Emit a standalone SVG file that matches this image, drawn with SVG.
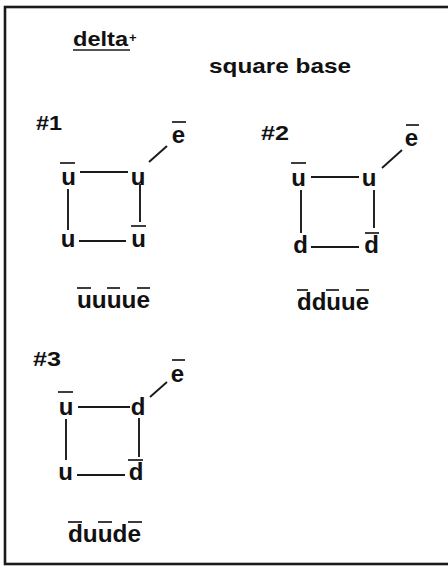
<svg xmlns="http://www.w3.org/2000/svg" width="448" height="566" viewBox="0 0 448 566">
<style>
text{font-family:"Liberation Sans",Arial,sans-serif;font-weight:bold;fill:#111}
.n{font-size:24px;text-anchor:middle}
.h{font-size:20px}
.lb{font-size:24px}
.c line{stroke:#1a1a1a;stroke-width:1.9}
.bar{stroke:#1a1a1a;stroke-width:1.7}
</style>
<rect x="5" y="7" width="470" height="557" fill="#fff" stroke="#1a1a1a" stroke-width="2.6"/>
<g id="title">
<text class="h" x="73" y="46" textLength="55" lengthAdjust="spacingAndGlyphs">delta</text>
<text x="129" y="42" font-size="13">+</text>
<line class="bar" x1="73" y1="50" x2="130" y2="50"/>
<text x="209" y="73" font-size="21" textLength="142" lengthAdjust="spacingAndGlyphs">square base</text>
</g>
<g id="d1">
<text class="h" x="36" y="130" textLength="26" lengthAdjust="spacingAndGlyphs">#1</text>
<g id="d1-ubar1"><text class="n" x="68.5" y="185">u</text><line class="bar" x1="60" y1="163" x2="75" y2="163"/></g>
<g id="d1-u1"><text class="n" x="138" y="185">u</text></g>
<g id="d1-ebar"><text class="n" x="178.5" y="143">e</text><line class="bar" x1="172" y1="122" x2="186" y2="122"/></g>
<g id="d1-u2"><text class="n" x="68" y="247">u</text></g>
<g id="d1-ubar2"><text class="n" x="138.5" y="247">u</text><line class="bar" x1="131" y1="226" x2="146" y2="226"/></g>
<g id="d1-label"><text class="lb" x="77" y="308" textLength="73" lengthAdjust="spacingAndGlyphs">uuuue</text>
<line class="bar" x1="77" y1="288" x2="91" y2="288"/><line class="bar" x1="107" y1="288" x2="120" y2="288"/><line class="bar" x1="137" y1="288" x2="150" y2="288"/></g>
</g>
<g id="d2">
<text class="h" x="261" y="140" textLength="28" lengthAdjust="spacingAndGlyphs">#2</text>
<g id="d2-ubar"><text class="n" x="298.5" y="186">u</text><line class="bar" x1="291" y1="163" x2="306" y2="163"/></g>
<g id="d2-u"><text class="n" x="369" y="186">u</text></g>
<g id="d2-ebar"><text class="n" x="411.5" y="146">e</text><line class="bar" x1="406" y1="125" x2="419" y2="125"/></g>
<g id="d2-d"><text class="n" x="300.5" y="253">d</text></g>
<g id="d2-dbar"><text class="n" x="371.5" y="253">d</text><line class="bar" x1="365" y1="233" x2="379" y2="233"/></g>
<g id="d2-label"><text class="lb" x="297" y="310" textLength="72" lengthAdjust="spacingAndGlyphs">dduue</text>
<line class="bar" x1="297" y1="290" x2="308" y2="290"/><line class="bar" x1="326" y1="290" x2="339" y2="290"/><line class="bar" x1="356" y1="290" x2="369" y2="290"/></g>
</g>
<g id="d3">
<text class="h" x="33" y="366" textLength="28" lengthAdjust="spacingAndGlyphs">#3</text>
<g id="d3-ubar"><text class="n" x="66" y="415">u</text><line class="bar" x1="58" y1="392" x2="73" y2="392"/></g>
<g id="d3-d"><text class="n" x="138" y="415">d</text></g>
<g id="d3-ebar"><text class="n" x="177.5" y="382">e</text><line class="bar" x1="172" y1="360" x2="185" y2="360"/></g>
<g id="d3-u"><text class="n" x="65.5" y="480">u</text></g>
<g id="d3-dbar"><text class="n" x="136" y="480">d</text><line class="bar" x1="128" y1="460" x2="143" y2="460"/></g>
<g id="d3-label"><text class="lb" x="68" y="542" textLength="73" lengthAdjust="spacingAndGlyphs">duude</text>
<line class="bar" x1="68" y1="522" x2="82" y2="522"/><line class="bar" x1="98" y1="522" x2="112" y2="522"/><line class="bar" x1="128" y1="522" x2="142" y2="522"/></g>
</g>
<g id="connectors" class="c">
<line x1="80" y1="172" x2="128" y2="172"/>
<line x1="68" y1="189" x2="68" y2="230"/>
<line x1="140" y1="184" x2="140" y2="222"/>
<line x1="79" y1="241" x2="126" y2="241"/>
<line x1="149" y1="162" x2="167" y2="146"/>
<line x1="311" y1="177" x2="359" y2="177"/>
<line x1="301" y1="190" x2="301" y2="233"/>
<line x1="374" y1="190" x2="374" y2="228"/>
<line x1="311" y1="247" x2="359" y2="247"/>
<line x1="382" y1="168" x2="402" y2="150"/>
<line x1="78" y1="407" x2="130" y2="407"/>
<line x1="66" y1="419" x2="66" y2="460"/>
<line x1="139" y1="418" x2="139" y2="457"/>
<line x1="77" y1="475" x2="125" y2="475"/>
<line x1="150" y1="397" x2="167" y2="382"/>
</g>
</svg>
